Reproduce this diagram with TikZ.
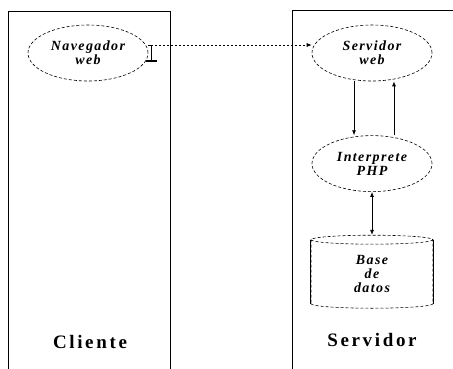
\documentclass[tikz,border=0pt]{standalone}
\usepackage{fontspec}
\setmainfont{Liberation Serif}
\newfontfamily\boxfont[LetterSpace=14]{Liberation Serif}
\newfontfamily\tagfont[LetterSpace=10]{Liberation Serif}
\usetikzlibrary{arrows.meta, positioning, shapes.geometric}

\begin{document}
\begin{tikzpicture}[
  x=1pt, y=-1pt,
  side/.style={draw, line width=1pt},
  proc/.style={ellipse, draw, dash pattern=on 3pt off 2pt, line width=0.6pt,
    minimum width=120pt, minimum height=56pt, inner sep=0pt, align=center,
    font=\tagfont\fontsize{14}{14}\selectfont\bfseries\itshape},
  store/.style={cylinder, shape border rotate=90, aspect=0.25, draw,
    dash pattern=on 3pt off 2pt, line width=0.6pt,
    minimum width=122pt, minimum height=73pt, inner sep=0pt, align=center,
    font=\tagfont\fontsize{14}{14}\selectfont\bfseries\itshape},
  title/.style={font=\boxfont\fontsize{19}{20}\selectfont\bfseries},
  edge/.style={-{Latex[length=5pt,width=4pt]}, line width=0.8pt},
  link/.style={-{Latex[length=5pt,width=4pt]}, line width=0.6pt, dash pattern=on 2pt off 2pt}
]
\useasboundingbox (0,0) rectangle (453,368);

% the two sides
\draw[side] (8,380) -- (8,11) -- (170,11) -- (170,380);
\draw[side] (292,380) -- (292,10) -- (460,10);

% client
\node[proc] (nav) at (88,53) {Navegador\\web};
\node[title] (cli) at (90,342) {Cliente};

% server
\node[proc] (serv) at (372,53) {Servidor\\web};
\node[proc, below=54pt of serv] (interp) {Interprete\\PHP};
\node[store, below=43pt of interp] (db) {Base\\de\\datos};
\draw[line width=0.6pt] (db.before top) -- (db.after bottom);
\draw[line width=0.6pt] (db.after top) -- (db.before bottom);
\node[title] (srv) at (372,340) {Servidor};

% request from the browser
\coordinate (port) at ([xshift=3pt,yshift=8pt]nav.east);
\draw[line width=0.8pt] ([xshift=-3pt]port) -- ([xshift=2pt]port)
  (port) -- ++(0,16);
\draw[line width=2.5pt] ([shift={(-5pt,-16pt)}]port) -- ([shift={(6pt,-16pt)}]port);
\draw[link] (port) -- (port -| serv.west);

\draw[edge] ([xshift=-18pt]serv.south) -- ([xshift=-18pt]interp.north);
\draw[edge] ([xshift=22pt]interp.north) -- ([xshift=22pt]serv.south);
\draw[edge, {Latex[length=5pt,width=4pt]}-{Latex[length=5pt,width=4pt]}] (interp.south) -- (db.north);
\end{tikzpicture}
\end{document}
